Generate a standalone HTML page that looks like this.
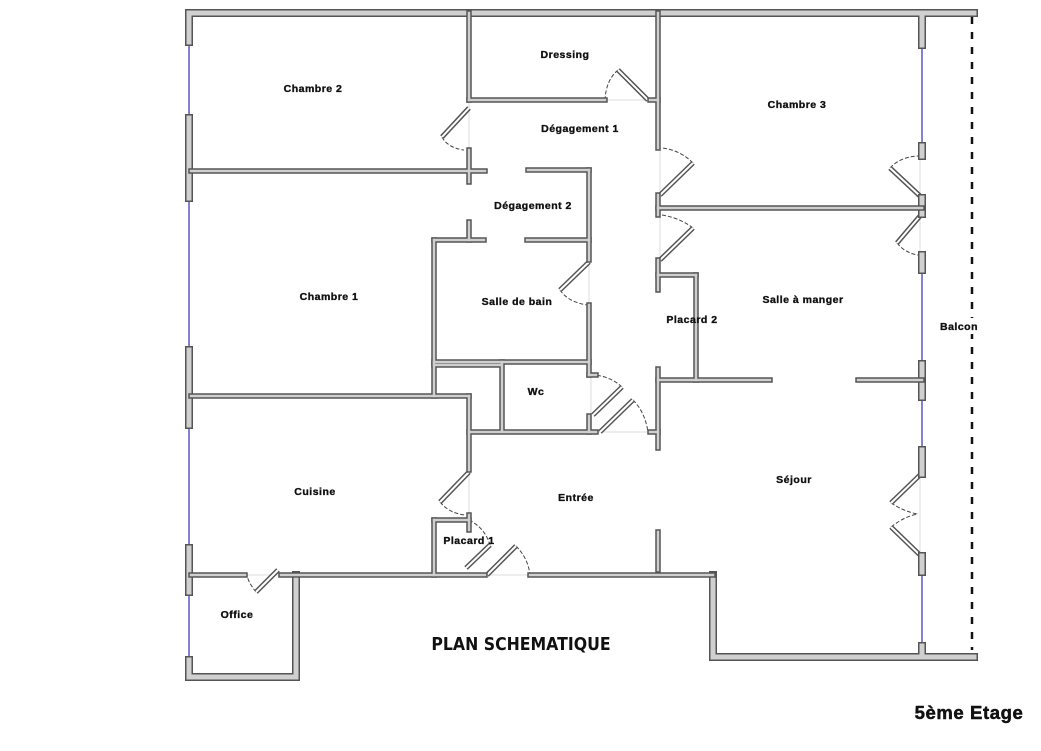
<!DOCTYPE html>
<html><head><meta charset="utf-8"><style>
html,body{margin:0;padding:0;background:#fff;}
svg{display:block}
text{font-family:"Liberation Sans",Arial,sans-serif;font-weight:bold;fill:#111;}
</style></head><body>
<svg width="1041" height="751" viewBox="0 0 1041 751" xmlns="http://www.w3.org/2000/svg" xmlns:xlink="http://www.w3.org/1999/xlink">
<defs>
<g id="ext" stroke-linecap="square">
<line x1="189" y1="13" x2="974" y2="13"/>
<line x1="189" y1="13" x2="189" y2="42"/>
<line x1="189" y1="118" x2="189" y2="198"/>
<line x1="189" y1="350" x2="189" y2="425"/>
<line x1="189" y1="548" x2="189" y2="592"/>
<line x1="189" y1="660" x2="189" y2="677"/>
<line x1="189" y1="677" x2="296" y2="677"/>
<line x1="296" y1="677" x2="296" y2="575"/>
<line x1="713" y1="575" x2="713" y2="657"/>
<line x1="713" y1="657" x2="974" y2="657"/>
<line x1="922" y1="13" x2="922" y2="45"/>
<line x1="922" y1="146" x2="922" y2="156"/>
<line x1="922" y1="198" x2="922" y2="214"/>
<line x1="922" y1="255" x2="922" y2="270"/>
<line x1="922" y1="364" x2="922" y2="397"/>
<line x1="922" y1="450" x2="922" y2="474"/>
<line x1="922" y1="556" x2="922" y2="572"/>
<line x1="922" y1="646" x2="922" y2="657"/>
</g>
<g id="int" stroke-linecap="square">
<line x1="191" y1="575" x2="245" y2="575"/>
<line x1="281" y1="575" x2="485" y2="575"/>
<line x1="530" y1="575" x2="713" y2="575"/>
<line x1="469" y1="13" x2="469" y2="100"/>
<line x1="469" y1="100" x2="605" y2="100"/>
<line x1="650" y1="100" x2="658" y2="100"/>
<line x1="658" y1="13" x2="658" y2="148"/>
<line x1="658" y1="195" x2="658" y2="215"/>
<line x1="658" y1="208" x2="922" y2="208"/>
<line x1="658" y1="260" x2="658" y2="290"/>
<line x1="658" y1="275" x2="696" y2="275"/>
<line x1="696" y1="275" x2="696" y2="380"/>
<line x1="658" y1="380" x2="770" y2="380"/>
<line x1="858" y1="380" x2="922" y2="380"/>
<line x1="658" y1="369" x2="658" y2="448"/>
<line x1="650" y1="432" x2="658" y2="432"/>
<line x1="658" y1="532" x2="658" y2="570"/>
<line x1="469" y1="150" x2="469" y2="182"/>
<line x1="191" y1="171" x2="485" y2="171"/>
<line x1="469" y1="222" x2="469" y2="240"/>
<line x1="434" y1="240" x2="484" y2="240"/>
<line x1="527" y1="240" x2="589" y2="240"/>
<line x1="528" y1="170" x2="589" y2="170"/>
<line x1="589" y1="170" x2="589" y2="260"/>
<line x1="589" y1="305" x2="589" y2="375"/>
<line x1="589" y1="375" x2="596" y2="375"/>
<line x1="589" y1="416" x2="589" y2="432"/>
<line x1="434" y1="240" x2="434" y2="396"/>
<line x1="434" y1="362" x2="589" y2="362"/>
<line x1="191" y1="396" x2="469" y2="396"/>
<line x1="469" y1="396" x2="469" y2="470"/>
<line x1="434" y1="365" x2="500" y2="365"/>
<line x1="502" y1="362" x2="502" y2="430"/>
<line x1="469" y1="432" x2="596" y2="432"/>
<line x1="434" y1="520" x2="469" y2="520"/>
<line x1="434" y1="520" x2="434" y2="575"/>
<line x1="469" y1="515" x2="469" y2="530"/>
</g>
<g id="leaf" stroke-linecap="butt">
<line x1="469" y1="108" x2="442" y2="137"/>
<line x1="648" y1="100" x2="618" y2="70"/>
<line x1="660" y1="195" x2="693" y2="163"/>
<line x1="660" y1="260" x2="693" y2="228"/>
<line x1="920" y1="196" x2="890" y2="168"/>
<line x1="920" y1="216" x2="897" y2="243"/>
<line x1="589" y1="262" x2="560" y2="290"/>
<line x1="593" y1="415" x2="622" y2="387"/>
<line x1="600" y1="432" x2="633" y2="400"/>
<line x1="469" y1="472" x2="440" y2="502"/>
<line x1="466" y1="568" x2="490" y2="545"/>
<line x1="487" y1="575" x2="516" y2="546"/>
<line x1="920" y1="475" x2="891" y2="503"/>
<line x1="920" y1="555" x2="891" y2="527"/>
<line x1="256" y1="592" x2="278" y2="570"/>
</g>
</defs>
<g stroke="#5858c8" stroke-width="1.5">
<line x1="189" y1="42" x2="189" y2="118"/>
<line x1="189" y1="198" x2="189" y2="350"/>
<line x1="189" y1="425" x2="189" y2="548"/>
<line x1="189" y1="592" x2="189" y2="660"/>
<line x1="922" y1="45" x2="922" y2="146"/>
<line x1="922" y1="270" x2="922" y2="364"/>
<line x1="922" y1="397" x2="922" y2="450"/>
<line x1="922" y1="572" x2="922" y2="646"/>
</g>
<line x1="972" y1="17" x2="972" y2="650" stroke="#111" stroke-width="2.5" stroke-dasharray="7,8"/>
<g stroke="#ddd" stroke-width="1">
<line x1="469" y1="100" x2="469" y2="150"/>
<line x1="605" y1="100" x2="650" y2="100"/>
<line x1="660" y1="148" x2="660" y2="260"/>
<line x1="920" y1="156" x2="920" y2="255"/>
<line x1="589" y1="260" x2="589" y2="305"/>
<line x1="591" y1="375" x2="591" y2="432"/>
<line x1="596" y1="432" x2="658" y2="432"/>
<line x1="469" y1="470" x2="469" y2="515"/>
<line x1="485" y1="575" x2="530" y2="575"/>
<line x1="245" y1="575" x2="281" y2="575"/>
<line x1="920" y1="474" x2="920" y2="556"/>
</g>
<g fill="none" stroke="#444" stroke-width="1" stroke-dasharray="4,2">
<path d="M442 137 Q448 148 464 150"/>
<path d="M618 70 Q606 80 605 100"/>
<path d="M693 163 Q680 150 662 148"/>
<path d="M693 228 Q680 218 662 215"/>
<path d="M890 168 Q900 157 918 156"/>
<path d="M897 243 Q905 253 918 255"/>
<path d="M560 290 Q568 302 587 305"/>
<path d="M622 387 Q610 376 593 375"/>
<path d="M633 400 Q645 412 648 432"/>
<path d="M440 502 Q450 514 466 515"/>
<path d="M469 520 Q485 528 490 545"/>
<path d="M516 546 Q528 558 530 575"/>
<path d="M891 503 Q905 512 918 514"/>
<path d="M891 527 Q905 516 918 514"/>
<path d="M256 592 Q248 582 247 575"/>
</g>
<use xlink:href="#leaf" stroke="#555" stroke-width="5"/>
<use xlink:href="#leaf" stroke="#fff" stroke-width="2"/>
<use xlink:href="#ext" stroke="#555" stroke-width="8"/>
<use xlink:href="#ext" stroke="#d0d0d0" stroke-width="5"/>
<use xlink:href="#int" stroke="#555" stroke-width="5.5"/>
<use xlink:href="#int" stroke="#cfcfcf" stroke-width="2.5"/>
<rect x="938" y="318" width="42" height="16" fill="#fff"/>
<g font-size="10.5" text-anchor="middle" letter-spacing="0.5" stroke="#111" stroke-width="0.35">
<text x="313" y="92">Chambre 2</text>
<text x="565" y="58">Dressing</text>
<text x="580" y="132">Dégagement 1</text>
<text x="797" y="108">Chambre 3</text>
<text x="533" y="209">Dégagement 2</text>
<text x="329" y="300">Chambre 1</text>
<text x="517" y="305">Salle de bain</text>
<text x="692" y="323">Placard 2</text>
<text x="803" y="303">Salle à manger</text>
<text x="959" y="330">Balcon</text>
<text x="536" y="395">Wc</text>
<text x="576" y="501">Entrée</text>
<text x="794" y="483">Séjour</text>
<text x="315" y="495">Cuisine</text>
<text x="469" y="544">Placard 1</text>
<text x="237" y="618">Office</text>
</g>
<text x="521" y="650" font-size="17.5" text-anchor="middle" style="font-family:'DejaVu Sans','Liberation Sans',sans-serif;font-weight:bold" transform="translate(521 0) scale(0.9 1) translate(-521 0)">PLAN SCHEMATIQUE</text>
<text x="969" y="719" font-size="18.5" text-anchor="middle" letter-spacing="0.6" stroke="#111" stroke-width="0.5">5ème Etage</text>
</svg>
</body></html>
